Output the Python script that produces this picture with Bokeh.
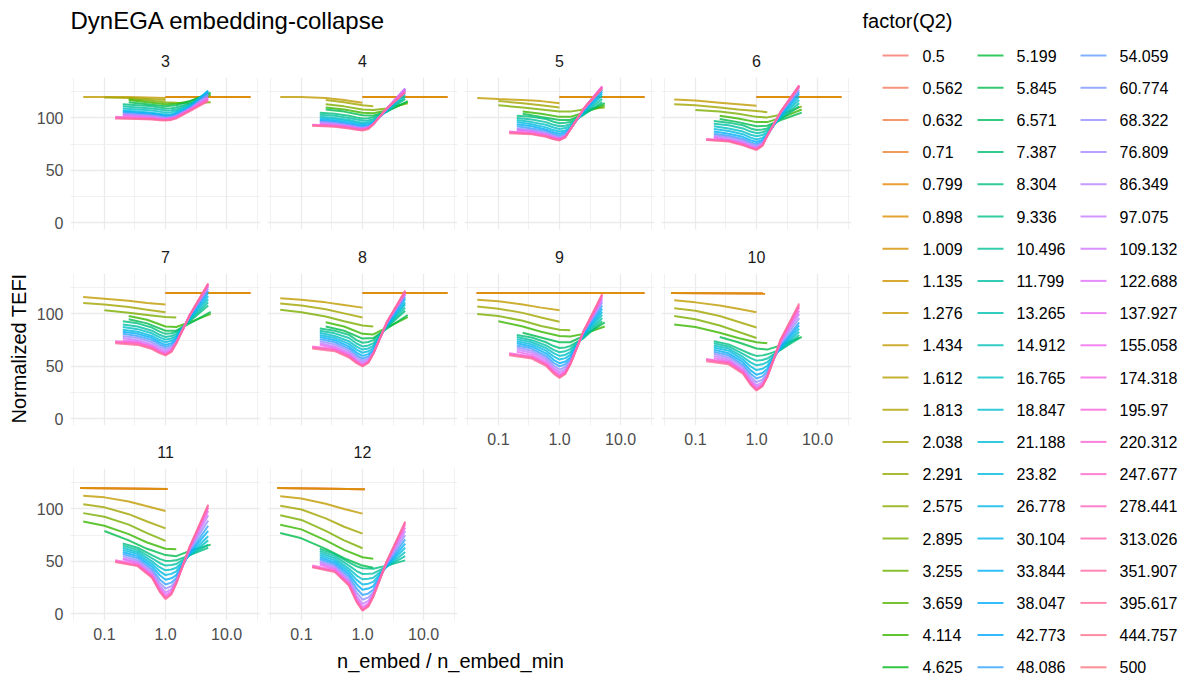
import math
from bokeh.plotting import figure
from bokeh.layouts import row, column
from bokeh.models import Range1d, FixedTicker, NumeralTickFormatter, Label, Spacer, ColumnDataSource
from bokeh.embed import file_html
from bokeh.resources import INLINE
from bokeh.core.properties import value

# ---------------- data ----------------
TITLE = "DynEGA embedding-collapse"
X_TITLE = "n_embed / n_embed_min"
Y_TITLE = "Normalized TEFI"
LEGEND_TITLE = "factor(Q2)"

Q2_LEVELS = ["0.5", "0.562", "0.632", "0.71", "0.799", "0.898", "1.009", "1.135", "1.276", "1.434",
             "1.612", "1.813", "2.038", "2.291", "2.575", "2.895", "3.255", "3.659", "4.114", "4.625",
             "5.199", "5.845", "6.571", "7.387", "8.304", "9.336", "10.496", "11.799", "13.265", "14.912",
             "16.765", "18.847", "21.188", "23.82", "26.778", "30.104", "33.844", "38.047", "42.773", "48.086",
             "54.059", "60.774", "68.322", "76.809", "86.349", "97.075", "109.132", "122.688", "137.927", "155.058",
             "174.318", "195.97", "220.312", "247.677", "278.441", "313.026", "351.907", "395.617", "444.757", "500"]

PANELS = ["3", "4", "5", "6", "7", "8", "9", "10", "11", "12"]

X_TICKS = [0.1, 1.0, 10.0]
Y_TICKS = [0, 50, 100]

# flat series (Q2 levels 0.5 / 0.71 / 1.009)
F_IDX = [0, 3, 6]
F_X0 = [1.0, 1.0, 1.0, 1.0, 1.0, 1.0, 0.044, 0.04, 0.04, 0.04]
F_X1 = [24.6, 24.6, 24.6, 24.6, 24.6, 24.6, 24.6, 1.38, 1.08, 1.09]
F_Y0 = [120, 120, 120, 120, 120, 120, 120, 120, 120, 120]
F_Y1 = [120, 120, 120, 120, 120, 120, 120, 119.5, 119, 118.8]

# left-starting series (olive / green)
L_IDX = [9, 12, 15, 18, 21]
L_X = [0.045, 0.1, 0.25, 0.5, 1.0, 1.5, 2.5, 5.5]

# V-shaped series (teal .. pink)
V_IDX = [24, 27, 30, 33, 36, 39, 42, 45, 48, 51, 54, 57]
V_X0 = [0.2, 0.2, 0.2, 0.2, 0.2, 0.2, 0.2, 0.2, 0.2, 0.15, 0.15, 0.15]
V_X = [0.35, 0.6, 0.8, 1.0, 1.25, 1.5, 2.5, 5.0]

P3_L = [[120, 120, 120, 119.5, 119, None, None, None],
        [None, 119.5, 119, 118, 117, None, None, None],
        [None, None, 118, 116.5, 115, 114.5, 114, 115],
        [None, None, 117, 115, 113, 113.5, 116, 122],
        [None, None, 115, 113, 111, 112, 116, 124]]
P3_V = [[113, 112, 111, 110, 109, 109.3, 110, 114, 121],
        [111, 110, 109, 108, 107, 107.3, 108, 113, 123],
        [109, 108, 107, 106, 105, 105.5, 106.5, 112, 125],
        [107, 106, 105, 104, 103, 103.6, 105, 111, 126],
        [106, 105, 104, 103, 102, 102.6, 104, 110, 125],
        [105, 104, 103, 102, 101, 101.6, 103, 109.5, 124],
        [104, 103, 102, 101, 100, 100.6, 102, 109, 122],
        [103, 102, 101, 100, 99.5, 100.1, 101.5, 108.5, 120],
        [102, 101, 100, 99.3, 99, 99.6, 101, 108, 119],
        [101, 100, 99.5, 98.8, 98.5, 99.1, 100.5, 107.5, 118],
        [100, 99.5, 99, 98.3, 98, 98.6, 100, 107, 117],
        [99.5, 99, 98.5, 97.8, 97.5, 98.1, 99.5, 106.5, 116]]

P4_L = [[120, 120, 119, 117, 114.5, None, None, None],
        [None, None, 117, 115, 112, 111, None, None],
        [None, None, 113, 111, 108, 107.5, 109, 114],
        [None, None, 110, 108, 105, 104.5, 107, 115],
        [None, None, 108, 106, 102.5, 102, 106, 116]]
P4_V = [[105, 104, 102, 100.4, 99.5, 99.8, 100.5, 106, 118],
        [103, 102, 100, 98.4, 97.5, 97.8, 98.5, 106, 120],
        [101, 100, 98, 96.4, 95.5, 96, 97, 106.5, 122],
        [99.5, 98.5, 96.5, 94.9, 94, 94.6, 96, 107, 124],
        [98, 97, 95, 93.4, 92.5, 93.3, 95, 107.5, 126],
        [97, 96, 94, 92.4, 91.5, 92.4, 94.5, 108, 127],
        [96, 95, 93, 91.4, 90.5, 91.6, 94, 108.5, 128],
        [95, 94, 92, 90.7, 90, 91.2, 94, 109, 128],
        [94, 93, 91.5, 90.2, 89.5, 90.8, 94, 109, 127],
        [93.5, 92.5, 91, 89.7, 89, 90.5, 94, 109, 126],
        [93, 92, 90.5, 89.2, 88.5, 90, 94, 109, 125],
        [92.5, 91.5, 90, 88.7, 88, 89.5, 94, 109, 124]]

P5_L = [[119, 118, 117, 116, 114, None, None, None],
        [None, 116, 114, 112, 110, None, None, None],
        [None, 112, 110, 108, 106, 106, 108, 110],
        [None, None, 106, 104, 101, 101, 105, 112],
        [None, None, 104, 101, 98, 98, 104, 114]]
P5_V = [[102, 101, 99, 96.4, 95, 95.3, 96, 103, 115],
        [100, 98.5, 96, 93.4, 92, 92.6, 94, 104, 118],
        [98, 96, 93.5, 90.9, 89.5, 90.3, 92, 105, 121],
        [96, 94, 91, 88.4, 87, 88.1, 90.5, 106, 123],
        [94, 92, 89, 86.4, 85, 86.4, 89.5, 107, 125],
        [92, 90, 87.5, 84.6, 83, 84.8, 89, 107.5, 127],
        [90, 88.5, 86, 83.1, 81.5, 83.7, 89, 108, 128],
        [89, 87.5, 85, 82.1, 80.5, 82.8, 89, 108.5, 129],
        [88, 86.5, 84, 81.4, 80, 82.5, 89, 109, 130],
        [87, 85.5, 83, 80.7, 79.5, 82.2, 89, 109, 130],
        [86, 85, 82.5, 80.2, 79, 81.8, 89, 109, 129],
        [85.5, 84.5, 82, 79.7, 78.5, 81.5, 89, 109, 128]]

P6_L = [[117.5, 116.5, 114.5, 113, 111.5, None, None, None],
        [113, 112, 110, 108, 106.5, 105.5, None, None],
        [None, 107.5, 106, 104, 101, 100.5, 103, 111],
        [None, None, 102, 99.5, 96, 96, 100, 108],
        [None, None, 99, 96, 92, 92.5, 98, 105]]
P6_V = [[97, 95.5, 93, 90, 88.5, 89, 90, 99, 111],
        [94.5, 93, 90, 87, 85.5, 86.3, 88, 100, 114],
        [92, 90, 87, 84, 82.5, 83.7, 86, 101, 117],
        [89.5, 87.5, 84.5, 81.2, 79.5, 81, 84.5, 102, 120],
        [87, 85, 82, 78.7, 77, 79, 83.5, 103, 123],
        [85, 83, 80, 76.7, 75, 77.5, 83, 104, 125],
        [83.5, 81.5, 78.5, 75.2, 73.5, 76.3, 83, 105, 127],
        [82, 80, 77, 73.8, 72, 75.2, 83, 105.5, 129],
        [81, 79, 76, 72.8, 71, 74.5, 83, 106, 130],
        [80, 78.5, 75, 72.2, 70.5, 74, 83, 106, 131],
        [79.5, 78, 74.5, 71.7, 70, 73.7, 83, 106, 131],
        [79, 77.5, 74, 71.2, 69.5, 73.3, 83, 106, 130]]

P7_L = [[116, 114.5, 112.5, 110.5, 109, None, None, None],
        [110.5, 109, 106.5, 104, 101.5, None, None, None],
        [None, 103.5, 101, 99, 97, 96.5, None, None],
        [None, None, 98, 94.5, 88, 87.5, 92, 100],
        [None, None, 95, 91, 84, 84, 91, 102]]
P7_V = [[93, 91, 87, 83.1, 81, 81.6, 83, 93, 108],
        [90, 88, 84, 80.1, 78, 79, 81, 94, 111],
        [87.5, 85.5, 81.5, 77.6, 75.5, 76.6, 79, 95, 114],
        [85, 83, 79, 75.1, 73, 74.4, 77.5, 96, 117],
        [83, 81, 77, 72.9, 70.5, 72.2, 76, 97, 120],
        [81, 79, 75, 70.9, 68.5, 70.4, 74.5, 98, 122],
        [79, 77, 73, 68.9, 66.5, 68.6, 73.5, 98.5, 124],
        [77, 75, 71, 66.9, 64.5, 67.1, 73, 99, 126],
        [75, 73.5, 69.5, 65.3, 63, 65.8, 72.5, 99, 127],
        [74, 72.5, 68.5, 64.3, 62, 65, 72, 99, 128],
        [73, 71.5, 67.5, 63.3, 61, 64.3, 72, 99, 129],
        [72, 70.5, 66.5, 62.7, 60.5, 63.8, 72, 99, 129]]

P8_L = [[115, 113.5, 111, 108.5, 106, None, None, None],
        [110, 108, 104.5, 100.5, 96.5, None, None, None],
        [104, 101.5, 97.5, 93, 89, 88, None, None],
        [None, None, 92, 88, 81, 80.5, 87, 97],
        [None, None, 88, 84, 76.5, 77, 86, 99]]
P8_V = [[86, 84, 80, 75.1, 72.5, 73.3, 75, 87, 103],
        [84, 81.5, 77, 71.8, 69, 70, 72, 87.5, 106],
        [82, 79, 74, 68.8, 66, 67.1, 69.5, 88, 109],
        [80, 77, 71.5, 66, 63, 64.4, 67.5, 89, 111],
        [78, 75, 69, 63.2, 60, 61.7, 65.5, 90, 114],
        [76, 73, 67, 60.8, 57.5, 59.5, 64, 90.5, 116],
        [74, 71, 65, 58.8, 55.5, 57.8, 63, 91, 118],
        [72, 69, 63, 56.8, 53.5, 56.3, 62.5, 91.5, 119],
        [70.5, 67.5, 61.5, 55.3, 52, 55.1, 62, 92, 120],
        [69, 66.5, 60.5, 54.3, 51, 54.3, 62, 92, 121],
        [68, 65.5, 59.5, 53.8, 50.5, 53.9, 62, 92, 122],
        [67, 64.5, 58.5, 53.1, 50, 53.5, 62, 92, 122]]

P9_L = [[113.5, 112, 109, 106, 103.5, None, None, None],
        [107, 105, 101, 96.5, 92.5, None, None, None],
        [100, 98, 93.5, 88.5, 85, 84.5, None, None],
        [None, 93, 88, 83, 79, 78.5, 81, 88],
        [None, None, 82, 77.5, 73, 73, 79, 92]]
P9_V = [[80, 77.5, 73, 69.4, 67.5, 68.1, 69.5, 77, 93],
        [78, 75, 70, 65.8, 63.5, 64.5, 66.5, 78, 96],
        [76, 73, 67.5, 62.7, 60, 61.1, 63.5, 79, 99],
        [74, 71, 65, 59.5, 56.5, 57.9, 61, 80, 102],
        [72, 69, 62.5, 56.3, 53, 54.7, 58.5, 81, 105],
        [70, 67, 60, 53.5, 50, 52, 56.5, 82, 108],
        [68, 65, 58, 50.9, 47, 49.4, 55, 83, 111],
        [66, 63, 56, 48.6, 44.5, 47.2, 53.5, 83.5, 113],
        [64, 61, 54, 46.5, 42.5, 45.5, 52.5, 84, 115],
        [62.5, 59.5, 52.5, 45.1, 41, 44.3, 52, 84, 117],
        [61.5, 58.5, 51.5, 44.1, 40, 43.6, 52, 84, 118],
        [60.5, 57.5, 50.5, 43.1, 39, 42.9, 52, 84, 119]]

P10_L = [[113, 111, 108, 105, 101.5, None, None, None],
         [105.5, 103, 98, 92.5, 87, None, None, None],
         [98, 95, 89, 83, 77, None, None, None],
         [90, 87.5, 82, 77, 73, 72, None, None],
         [None, None, 78, 73, 67, 66, 70, 78]]
P10_V = [[74, 71, 65, 61.8, 60, 60.5, 61.5, 66, 77],
         [72, 69, 62, 57.9, 55.5, 56.1, 57.5, 66, 80],
         [70, 67, 59, 53.8, 51, 52, 54, 67, 83],
         [68, 65, 56.5, 50, 46.5, 47.7, 50.5, 68, 86],
         [66, 62.5, 54, 46.2, 42, 43.7, 47.5, 69, 89],
         [64, 60.5, 51.5, 43, 38.5, 40.5, 45, 70, 92],
         [62, 58.5, 49.5, 40.1, 35, 37.4, 43, 72, 96],
         [60, 56.5, 47.5, 37.5, 32, 35, 41.5, 73, 100],
         [58, 55, 46, 35.6, 30, 33.2, 40.5, 74, 103],
         [57, 54, 45, 34.3, 28.5, 32.1, 40, 75, 106],
         [56, 53, 44, 33.3, 27.5, 31.4, 40, 76, 108],
         [55, 52, 43, 32.6, 27, 31, 40, 76, 110]]

P11_L = [[112.5, 111, 107, 102.5, 98, None, None, None],
         [104.5, 101.5, 95, 88, 81.5, None, None, None],
         [96, 92.5, 85, 77, 69.5, None, None, None],
         [88, 84, 76, 68, 62, 61.5, None, None],
         [None, 79, 70, 62, 56, 55, 60, 66]]
P11_V = [[67, 63, 56, 52.4, 50.5, 50.7, 51, 56, 63],
         [65, 61, 53, 48.5, 46, 46.5, 47.5, 56, 66],
         [63, 59, 50, 44.5, 41.5, 42.3, 44, 56, 70],
         [61, 57, 47.5, 40.8, 37, 38.1, 40.5, 57, 74],
         [59, 55, 45, 37, 32.5, 33.9, 37, 58, 79],
         [57, 53, 42.5, 33.1, 28, 29.8, 34, 59, 84],
         [55, 51, 40.5, 29.8, 24, 26.4, 32, 61, 89],
         [53, 49.5, 38.5, 26.8, 20.5, 23.6, 30.5, 62, 94],
         [52, 48, 37, 24.7, 18, 21.6, 30, 63, 98],
         [51, 47, 36, 23, 16, 20.1, 29.5, 64, 101],
         [50, 46, 35, 22, 15, 19.2, 29, 64, 103],
         [49.5, 45.5, 34.5, 21.2, 14, 18.5, 29, 64, 104]]

P12_L = [[112, 110, 105, 100, 95.5, None, None, None],
         [103, 99.5, 91, 83, 76.5, None, None, None],
         [94, 89.5, 79, 70, 62.5, None, None, None],
         [85, 80.5, 70, 61, 54, 52.5, None, None],
         [77, 72, 62, 53, 46, 44, None, None]]
P12_V = [[62, 57, 49, 45.4, 43.5, 43.3, 43, 46, 51],
         [60, 55, 46, 40.8, 38, 38.2, 38.5, 45, 55],
         [58, 53, 43, 36.5, 33, 33.5, 34.5, 45, 59],
         [56, 51, 40.5, 32.4, 28, 28.8, 30.5, 45.5, 63],
         [54, 49, 38, 28.3, 23, 24.1, 26.5, 46, 67],
         [52, 47, 35.5, 24.2, 18, 19.5, 23, 47, 71],
         [50, 45.5, 33, 20.3, 13.5, 15.7, 20.5, 48, 75],
         [48.5, 44, 31, 17, 9.5, 12.4, 19, 49, 79],
         [47, 42.5, 29.5, 14.6, 6.5, 10, 18, 50, 82],
         [46, 41.5, 28.5, 12.9, 4.5, 8.4, 17, 50, 85],
         [45, 40.5, 27.5, 11.9, 3.5, 7.6, 16.5, 50, 87],
         [44.5, 40, 27, 11.4, 3, 7, 16, 50, 88]]

PANEL_L = [P3_L, P4_L, P5_L, P6_L, P7_L, P8_L, P9_L, P10_L, P11_L, P12_L]
PANEL_V = [P3_V, P4_V, P5_V, P6_V, P7_V, P8_V, P9_V, P10_V, P11_V, P12_V]

# ---------------- styling ----------------
FONT = "Liberation Sans"
GRID = "#EBEBEB"
X_LO, X_HI = 10 ** -1.555, 10 ** 1.555
Y_LO, Y_HI = -6.3, 138.5
LINE_W = 2.0
LINE_A = 0.8


def hcl_hex(h, c=100.0, l=65.0):
    hr = math.radians(h)
    U, V = c * math.cos(hr), c * math.sin(hr)
    Xn, Yn, Zn = 95.047, 100.0, 108.883
    un = 4 * Xn / (Xn + 15 * Yn + 3 * Zn)
    vn = 9 * Yn / (Xn + 15 * Yn + 3 * Zn)
    Y = Yn * ((l + 16) / 116) ** 3 if l > 8 else Yn * l / 903.3
    u = U / (13 * l) + un
    v = V / (13 * l) + vn
    X = 9.0 * Y * u / (4 * v)
    Z = -X / 3 - 5 * Y + 3 * Y / v
    X, Y, Z = X / 100, Y / 100, Z / 100
    rgb = [3.240479 * X - 1.537150 * Y - 0.498535 * Z,
           -0.969256 * X + 1.875992 * Y + 0.041556 * Z,
           0.055648 * X - 0.204043 * Y + 1.057311 * Z]
    out = []
    for ch in rgb:
        ch = 12.92 * ch if ch <= 0.0031308 else 1.055 * ch ** (1 / 2.4) - 0.055
        out.append(int(round(min(max(ch, 0), 1) * 255)))
    return "#%02X%02X%02X" % tuple(out)


N = len(Q2_LEVELS)
COLORS = [hcl_hex(15 + 360.0 * i / N) for i in range(N)]


def panel_series(k):
    out = []
    for i in F_IDX:
        out.append((i, [F_X0[k], F_X1[k]], [F_Y0[k], F_Y1[k]]))
    for vals, i in zip(PANEL_L[k], L_IDX):
        xs = [x for x, y in zip(L_X, vals) if y is not None]
        ys = [y for y in vals if y is not None]
        out.append((i, xs, ys))
    for j, (vals, i) in enumerate(zip(PANEL_V[k], V_IDX)):
        out.append((i, [V_X0[j]] + V_X, vals))
    return out


COL_W = [233, 197, 197, 203]
COL_BL = [40, 4, 4, 4]
COL_BR = [3, 3, 3, 9]


def blank(width, height, bl=0, br=0, x_end=1.0, y_start=0.0, y_end=1.0):
    p = figure(width=width, height=height, x_range=Range1d(0, x_end), y_range=Range1d(y_start, y_end),
               output_backend="svg", toolbar_location=None, x_axis_location=None, y_axis_location=None,
               min_border_left=bl, min_border_right=br, min_border_top=0, min_border_bottom=0)
    p.grid.visible = False
    p.outline_line_color = None
    p.background_fill_color = "white"
    p.border_fill_color = "white"
    return p


def strip(text, col, h):
    p = blank(COL_W[col], h, COL_BL[col], COL_BR[col], 1.0, 0.0, float(h))
    p.add_layout(Label(x=0.5, y=17, text=text, text_align="center", text_baseline="middle",
                       text_font=FONT, text_font_size="16px", text_color="#1A1A1A"))
    return p


def panel(k, col, rowi, show_x, show_y):
    bb = (30 if rowi == 2 else 26) if show_x else 8
    p = figure(width=COL_W[col], height=152 + bb, x_axis_type="log",
               x_range=Range1d(X_LO, X_HI), y_range=Range1d(Y_LO, Y_HI),
               output_backend="svg", toolbar_location=None,
               min_border_left=COL_BL[col], min_border_right=COL_BR[col],
               min_border_top=0, min_border_bottom=bb)
    p.outline_line_color = None
    p.background_fill_color = "white"
    p.border_fill_color = "white"
    xt = FixedTicker(ticks=X_TICKS, minor_ticks=[10 ** -1.5, 10 ** -0.5, 10 ** 0.5, 10 ** 1.5])
    yt = FixedTicker(ticks=Y_TICKS, minor_ticks=[25, 75, 125])
    p.xaxis.ticker = xt
    p.yaxis.ticker = yt
    p.xgrid.ticker = xt
    p.ygrid.ticker = yt
    p.xaxis.formatter = NumeralTickFormatter(format="0.0")
    for g in (p.xgrid, p.ygrid):
        g.grid_line_color = GRID
        g.grid_line_width = 1.3
        g.minor_grid_line_color = GRID
        g.minor_grid_line_width = 0.7
    for ax in (p.xaxis, p.yaxis):
        ax.axis_line_color = None
        ax.major_tick_line_color = None
        ax.minor_tick_line_color = None
        ax.major_tick_out = 0
        ax.major_tick_in = 0
        ax.minor_tick_out = 0
        ax.major_label_standoff = 7
        ax.major_label_text_font = FONT
        ax.major_label_text_font_size = "16px"
        ax.major_label_text_color = "#4D4D4D"
    p.xaxis.visible = show_x
    p.yaxis.visible = show_y
    for i, xs, ys in panel_series(k):
        p.line(xs, ys, line_color=COLORS[i], line_width=LINE_W, line_alpha=LINE_A)
    return p


# grid of panels, built column by column
cols = []
for c in range(4):
    kids = [strip(PANELS[c], c, 37), panel(c, c, 0, False, c == 0)]
    kids += [strip(PANELS[4 + c], c, 36), panel(4 + c, c, 1, c >= 2, c == 0)]
    if c < 2:
        kids += [strip(PANELS[8 + c], c, 35), panel(8 + c, c, 2, True, c == 0)]
    else:
        kids += [Spacer(width=COL_W[c], height=199)]
    cols.append(column(*kids, spacing=0))

grid = row(*cols, spacing=0)

title_fig = blank(830, 40, x_end=830, y_start=40, y_end=0)
title_fig.add_layout(Label(x=40, y=20, text=TITLE, text_align="left", text_baseline="middle",
                           text_font=FONT, text_font_size="24px", text_color="black"))

xt_fig = blank(830, 30, x_end=830, y_start=30, y_end=0)
xt_fig.add_layout(Label(x=420, y=10, text=X_TITLE, text_align="center", text_baseline="middle",
                        text_font=FONT, text_font_size="20px", text_color="black"))

yl_fig = blank(30, 680, x_end=30, y_start=680, y_end=0)
yl_fig.add_layout(Label(x=18, y=348, text=Y_TITLE, text_align="center", text_baseline="middle",
                        angle=math.pi / 2, text_font=FONT, text_font_size="20px", text_color="black"))

# legend
leg = blank(340, 680, x_end=340, y_start=680, y_end=0)
leg.add_layout(Label(x=2, y=20, text=LEGEND_TITLE, text_align="left", text_baseline="middle",
                     text_font=FONT, text_font_size="20px", text_color="black"))
KEY_X = [22, 117, 220]
LAB_X = [62, 156, 259]
kx0, kx1, ky, lx, lt, kc = [], [], [], [], [], []
for i, lab in enumerate(Q2_LEVELS):
    cc, rr = i // 20, i % 20
    y = 55 + rr * 32.2
    kx0.append(KEY_X[cc]); kx1.append(KEY_X[cc] + 26); ky.append(y)
    lx.append(LAB_X[cc]); lt.append(lab); kc.append(COLORS[i])
src = ColumnDataSource(dict(x0=kx0, x1=kx1, y=ky, lx=lx, text=lt, color=kc))
leg.segment(x0="x0", y0="y", x1="x1", y1="y", line_color="color", line_width=LINE_W,
            line_alpha=LINE_A, source=src)
leg.text(x="lx", y="y", text="text", source=src, text_font=value(FONT), text_font_size="16px",
         text_baseline="middle", text_align="left", text_color="black")

layout = row(yl_fig, column(title_fig, grid, xt_fig, spacing=0), leg, spacing=0)

open("out.html", "w").write(file_html(layout, INLINE))
